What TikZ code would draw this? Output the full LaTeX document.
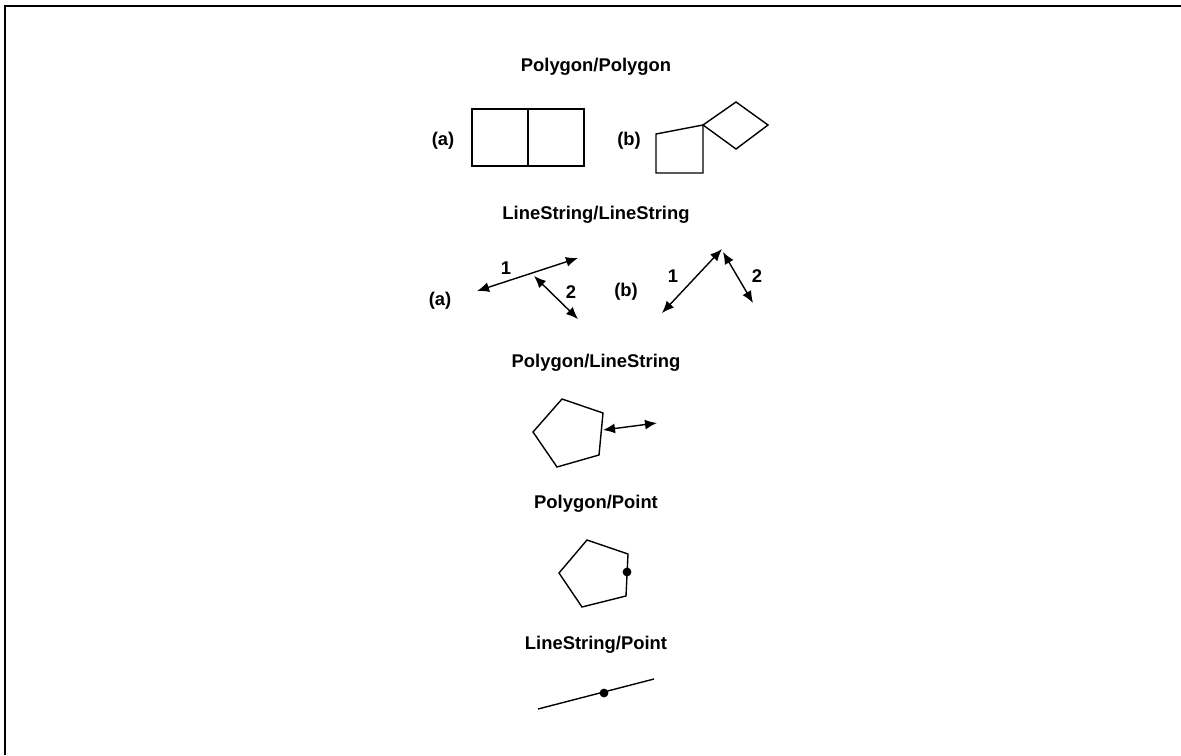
\documentclass[tikz,border=0pt]{standalone}
\usepackage{fontspec}
\setmainfont{Liberation Sans}
\usetikzlibrary{positioning, arrows.meta}

\begin{document}
\begin{tikzpicture}[
	x=0.5pt, y=-0.5pt,
	geom/.style={draw, line width=0.7pt, line join=miter},
	title/.style={font=\fontsize{9.2}{11}\selectfont\bfseries, inner sep=0pt},
	caselabel/.style={font=\fontsize{9.2}{11}\selectfont\bfseries, inner sep=0pt},
	seg/.style={line width=0.7pt, {Latex[length=6pt,width=5pt]}-{Latex[length=6pt,width=5pt]}},
	pt/.style={circle, fill, inner sep=0pt, minimum size=4.4pt},
	>=LaTeX
]
\useasboundingbox (0,0) rectangle (1181,755);
\draw[line width=1pt] (5,755) -- (5,6) -- (1181,6);

% section titles
\node[title] (pp) at (596,67) {Polygon/Polygon};
\node[title] (ll) at (596,215) {LineString/LineString};
\node[title] (pl) at (596,363) {Polygon/LineString};
\node[title] (ppt) at (596,504) {Polygon/Point};
\node[title] (lpt) at (596,645) {LineString/Point};

% polygon / polygon
\node[caselabel] (ppa) at (443,141) {(a)};
\draw[geom] (472,109) rectangle (584,166);
\draw[geom] (528,109) -- (528,166);
\node[caselabel] (ppb) at (629,141) {(b)};
\draw[geom] (656,173) -- (703,173) -- (703,125) -- (656,134) -- cycle;
\draw[geom] (703,125) -- (736,102) -- (768,125) -- (736,149) -- cycle;

% linestring / linestring
\node[caselabel] (lla) at (440,301) {(a)};
\coordinate (a1s) at (477,291);
\coordinate (a1e) at (578,258);
\coordinate (a2s) at (534,276);
\coordinate (a2e) at (578,319);
\draw[seg] (a1s) -- (a1e);
\draw[seg] (a2s) -- (a2e);
\node[caselabel] (a1) at (506,268) {1};
\node[caselabel] (a2) at (571,292) {2};

\node[caselabel] (llb) at (626,292) {(b)};
\coordinate (b1s) at (662,313);
\coordinate (b1e) at (722,249);
\coordinate (b2s) at (723,252);
\coordinate (b2e) at (753,303);
\draw[seg] (b1s) -- (b1e);
\draw[seg] (b2s) -- (b2e);
\node[caselabel] (b1) at (673,276) {1};
\node[caselabel] (b2) at (757,276) {2};

% polygon / linestring
\draw[geom] (562,399) -- (603,413) -- (599,455) -- (557,467) -- (533,432) -- cycle;
\coordinate (pls) at (603,430);
\coordinate (ple) at (657,423);
\draw[seg] (pls) -- (ple);

% polygon / point
\draw[geom] (587,540) -- (628,554) -- (626,596) -- (582,607) -- (559,573) -- cycle;
\node[pt] (pptdot) at (627,572) {};

% linestring / point
\coordinate (lps) at (538,709);
\coordinate (lpe) at (654,679);
\draw[geom] (lps) -- (lpe);
\node[pt] (lptdot) at (604,693) {};
\end{tikzpicture}
\end{document}
